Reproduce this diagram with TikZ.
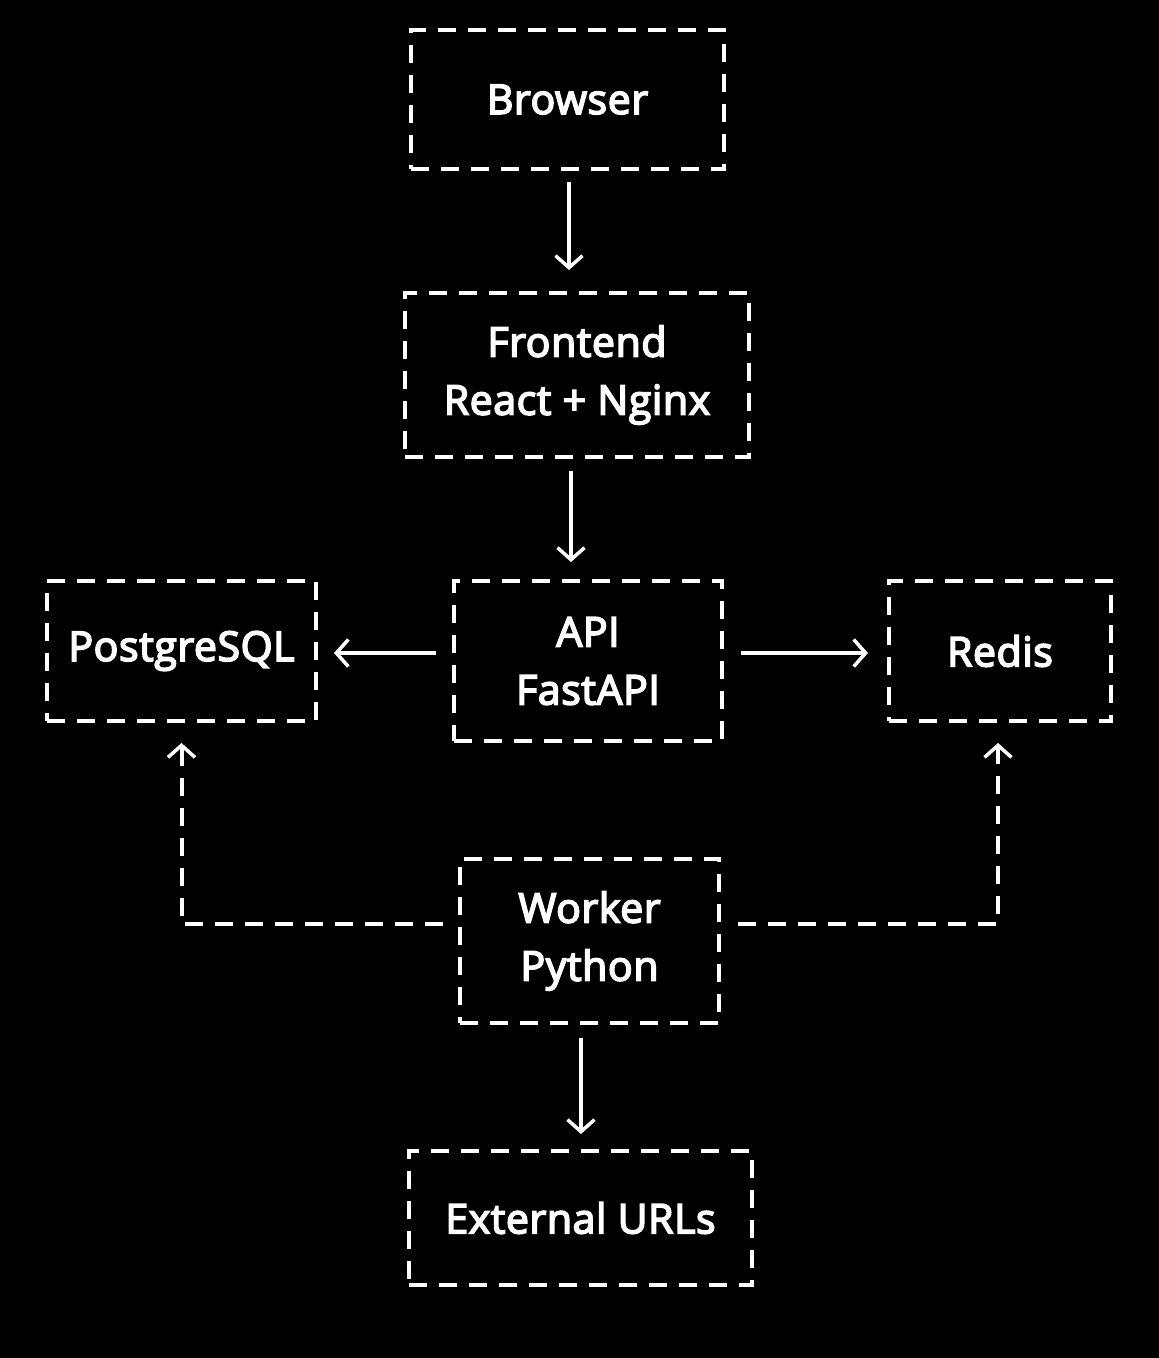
\documentclass[tikz,border=0pt]{standalone}
\usepackage{fontspec}
\newfontfamily\lab{Open Sans}[FakeBold=4,LetterSpace=1.5]
\usetikzlibrary{arrows.meta}
\begin{document}
\begin{tikzpicture}[x=1pt,y=-1pt,
  box/.style={draw=white, line width=4pt, dash pattern=on 18pt off 12pt,
    text=white, inner sep=0pt, align=center,
    font=\lab\fontsize{41}{58}\selectfont},
  conn/.style={draw=white, line width=3.5pt, -{Straight Barb[length=12pt,width=27pt]}},
  dconn/.style={draw=white, line width=4pt, dash pattern=on 18pt off 12pt,
    -{Straight Barb[length=12pt,width=27pt,line width=3.5pt]}}
]
\fill[black] (0,0) rectangle (1159,1358);
\node[box, minimum width=313pt, minimum height=139pt] (browser) at (567.5,99.5) {Browser};
\node[box, minimum width=344pt, minimum height=164pt] (frontend) at (577,375) {Frontend\\React + Nginx};
\node[box, minimum width=268pt, minimum height=160pt] (api) at (588,661) {API\\FastAPI};
\node[box, minimum width=269pt, minimum height=140pt] (postgres) at (181.5,651) {PostgreSQL};
\node[box, minimum width=222pt, minimum height=140pt] (redis) at (1000,651) {Redis};
\node[box, minimum width=259pt, minimum height=164pt] (worker) at (589.5,941) {Worker\\Python};
\node[box, minimum width=343pt, minimum height=134pt] (external) at (580.5,1218) {External URLs};

\draw[conn, shorten <=11pt, shorten >=21pt] ([xshift=1.5pt]browser.south) -- ([xshift=1.5pt]browser.south |- frontend.north);
\draw[conn, shorten <=12pt, shorten >=17pt] ([xshift=-6pt]frontend.south) -- ([xshift=-6pt]frontend.south |- api.north);
\draw[conn, shorten <=16pt, shorten >=16pt] ([yshift=8pt]api.west) -- ([yshift=8pt]api.west -| postgres.east);
\draw[conn, shorten <=17pt, shorten >=19pt] ([yshift=8pt]api.east) -- ([yshift=8pt]api.east -| redis.west);
\draw[dconn, shorten <=15pt, shorten >=20pt] ([yshift=17pt]worker.west) -| (postgres.south);
\draw[dconn, shorten <=17pt, shorten >=20pt] ([yshift=17pt]worker.east) -| ([xshift=-2pt]redis.south);
\draw[conn, shorten <=13pt, shorten >=15pt] ([xshift=-8.5pt]worker.south) -- ([xshift=-8.5pt]worker.south |- external.north);
\end{tikzpicture}
\end{document}
